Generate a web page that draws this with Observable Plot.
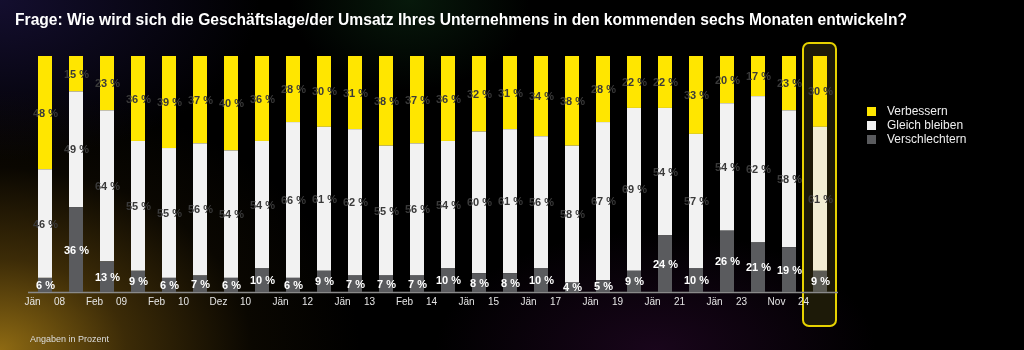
<!DOCTYPE html>
<html>
<head>
<meta charset="utf-8">
<script src="https://cdn.jsdelivr.net/npm/d3@7"></script>
<script src="https://cdn.jsdelivr.net/npm/@observablehq/plot@0.6"></script>
<style>
  html, body { margin: 0; padding: 0; background: #000; }
  #wrap {
    position: relative; width: 1024px; height: 350px; overflow: hidden;
    font-family: "Liberation Sans", Arial, Helvetica, sans-serif;
    background:
      radial-gradient(ellipse 360px 260px at 0% 100%, rgba(150,112,20,0.95) 0%, rgba(100,72,12,0.6) 35%, rgba(40,28,4,0.25) 70%, rgba(0,0,0,0) 100%),
      radial-gradient(ellipse 260px 160px at 0% 0%, rgba(22,16,52,0.9) 0%, rgba(0,0,0,0) 100%),
      radial-gradient(ellipse 220px 120px at 64% 100%, rgba(55,12,60,0.45) 0%, rgba(0,0,0,0) 100%),
      radial-gradient(ellipse 120px 90px at 40% 0%, rgba(14,50,22,0.5) 0%, rgba(0,0,0,0) 100%),
      #000;
  }
  #title {
    position: absolute; left: 15px; top: 10px; white-space: nowrap;
    font-family: "Liberation Sans Narrow", "Arial Narrow", "Liberation Sans", Arial, sans-serif;
    font-weight: bold; font-size: 16px; line-height: 20px; color: #fff;
    transform-origin: 0 0;
  }
  #chart { position: absolute; left: 0; top: 40px; }
  #legend { position: absolute; left: 867px; top: 104px; font-size: 12px; color: #eee; }
  .item { height: 14px; line-height: 14px; white-space: nowrap; }
  .sw { display: inline-block; width: 9px; height: 9px; margin-right: 11px; vertical-align: -1px; }
  #caption { position: absolute; left: 30px; top: 334px; font-size: 9px; color: #ddd; }
</style>
</head>
<body>
<div id="wrap">
  <div id="title">Frage: Wie wird sich die Geschäftslage/der Umsatz Ihres Unternehmens in den kommenden sechs Monaten entwickeln?</div>
  <div id="chart"></div>
  <div id="legend"></div>
  <div id="caption">Angaben in Prozent</div>
</div>
<script>
// Data (percent)
const tickLabels = ["Jän 08", "", "Feb 09", "", "Feb 10", "", "Dez 10", "", "Jän 12", "", "Jän 13", "", "Feb 14", "", "Jän 15", "", "Jän 17", "", "Jän 19", "", "Jän 21", "", "Jän 23", "", "Nov 24", ""];
const verbessern     = [48,15,23,36,39,37,40,36,28,30,31,38,37,36,32,31,34,38,28,22,22,33,20,17,23,30];
const gleichBleiben  = [46,49,64,55,55,56,54,54,66,61,62,55,56,54,60,61,56,58,67,69,54,57,54,62,58,61];
const verschlechtern = [6,36,13,9,6,7,6,10,6,9,7,7,7,10,8,8,10,4,5,9,24,10,26,21,19,9];
const seriesNames = ["Verbessern", "Gleich bleiben", "Verschlechtern"];
const seriesColors = ["#ffe600", "#f2f2f2", "#5a5b5e"];
const highlightIndex = [25];

const stackOrder = ["Verschlechtern", "Gleich bleiben", "Verbessern"];
const valuesBySeries = [verbessern, gleichBleiben, verschlechtern];
const rows = [];
tickLabels.forEach((_, i) => {
  seriesNames.forEach((s, k) => rows.push({i, series: s, value: valuesBySeries[k][i]}));
});
const tickIdx = tickLabels.map((t, i) => t ? i : null).filter(i => i !== null);

const plot = Plot.plot({
  width: 1024,
  height: 310,
  marginTop: 16,
  marginBottom: 58,
  marginLeft: 28,
  marginRight: 186,
  style: {background: "transparent", color: "#e6e6e6", fontFamily: "'Liberation Sans', Arial, sans-serif"},
  x: {type: "band", domain: d3.range(tickLabels.length), range: [37, 829], paddingInner: 0.548, paddingOuter: 0},
  y: {domain: [0, 100], axis: null},
  color: {domain: seriesNames, range: seriesColors},
  marks: [
    Plot.barY(highlightIndex, {x: d => d, y1: -14.4, y2: 105.5, insetLeft: -10, insetRight: -9, rx: 6,
      fill: "#1d1a08", stroke: "#e6d200", strokeWidth: 2}),
    Plot.ruleY([0], {stroke: "#8a8a8a", strokeWidth: 1.5}),
    Plot.barY(rows, {x: "i", y: "value", fill: "series", order: stackOrder, insetLeft: 0, insetRight: 0}),
    Plot.barY(highlightIndex, {x: d => d, y1: 0, y2: 100, fill: "#fffbe0", mixBlendMode: "multiply"}),
    Plot.text(rows, Plot.stackY({x: "i", y: "value", z: "series", order: stackOrder,
      text: d => d.series !== "Verschlechtern" ? d.value + " %" : null,
      fill: "#3a3a3a", fontWeight: "bold", fontSize: 11})),
    Plot.text(rows, Plot.stackY({x: "i", y: "value", z: "series", order: stackOrder,
      text: d => d.series === "Verschlechtern" ? d.value + " %" : null,
      fill: "#ffffff", fontWeight: "bold", fontSize: 11})),
    Plot.axisX({ticks: tickIdx, tickFormat: i => tickLabels[i].split(" ")[0], tickSize: 0, tickPadding: 5, dx: -13, fontSize: 10, label: null}),
    Plot.axisX({ticks: tickIdx, tickFormat: i => tickLabels[i].split(" ")[1], tickSize: 0, tickPadding: 5, dx: 14, fontSize: 10, label: null})
  ]
});
document.getElementById("chart").appendChild(plot);

const legend = document.getElementById("legend");
seriesNames.forEach((s, k) => {
  const div = document.createElement("div");
  div.className = "item";
  div.innerHTML = `<span class="sw" style="background:${seriesColors[k]}"></span>${s}`;
  legend.appendChild(div);
});

// fit title width to reference (~892px)
const title = document.getElementById("title");
const w = title.getBoundingClientRect().width;
if (w > 0) title.style.transform = `scaleX(${892 / w})`;
</script>
</body>
</html>
